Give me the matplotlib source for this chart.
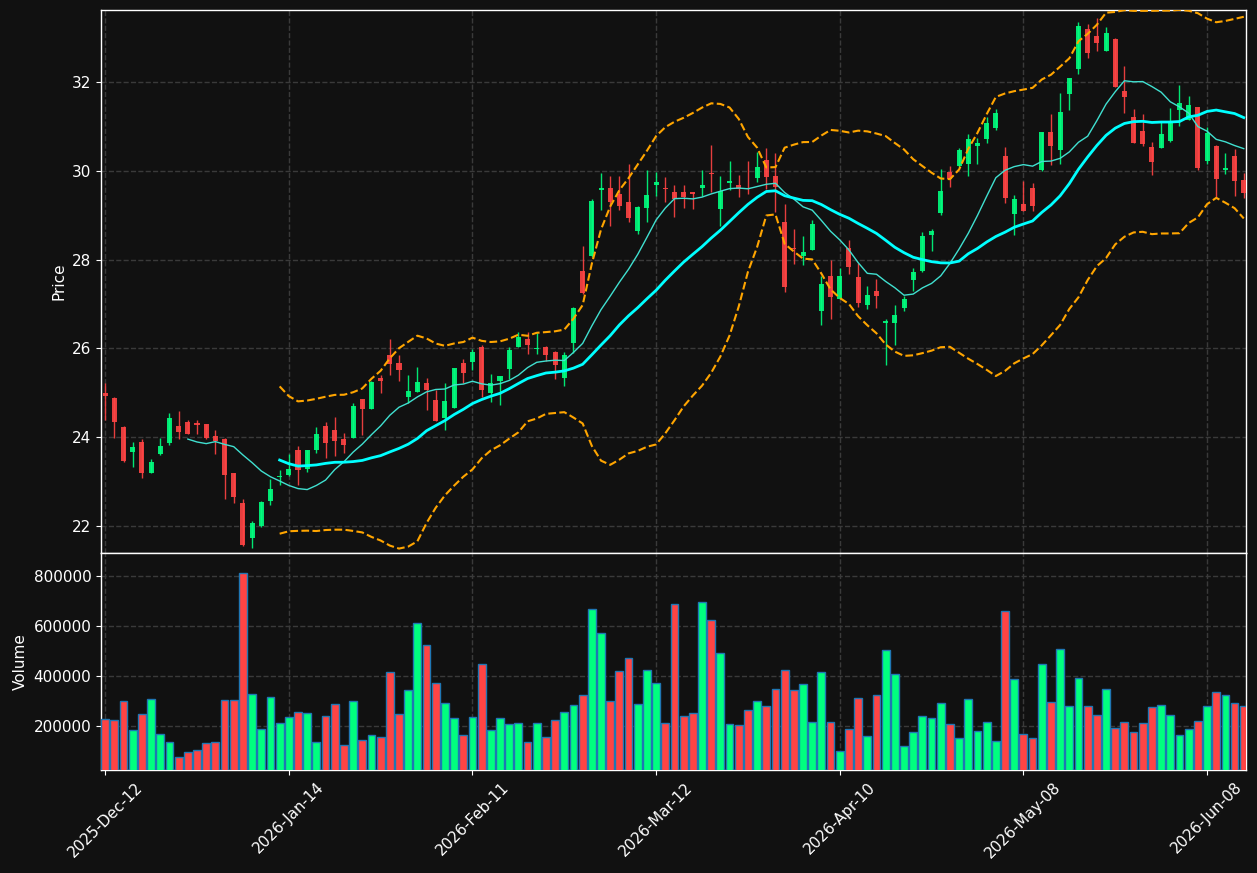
import numpy as np
import pandas as pd
import matplotlib
matplotlib.use('Agg')
import matplotlib.pyplot as plt
from matplotlib.ticker import FuncFormatter, FixedLocator

# trading days (custom calendar)
holidays = ['2025-12-24', '2025-12-25', '2026-01-01', '2026-02-16', '2026-04-03', '2026-05-25']
dates = pd.bdate_range('2025-12-12', periods=125, freq='C', holidays=holidays)

opens = [24.99, 24.88, 24.22, 23.67, 23.89, 23.20, 23.63, 23.87, 24.26, 24.33,
         24.32, 24.29, 24.02, 23.96, 23.19, 22.52, 21.72, 21.99, 22.57, 23.09,
         23.15, 23.72, 23.29, 23.71, 24.24, 24.15, 23.95, 23.99, 24.85, 24.64,
         25.34, 25.84, 25.66, 24.91, 25.02, 25.21, 24.83, 24.44, 24.66, 25.66,
         25.69, 26.02, 25.00, 25.27, 25.53, 26.03, 26.22, 25.99, 26.04, 25.92,
         25.33, 26.11, 27.75, 28.07, 29.56, 29.62, 29.48, 29.30, 28.64, 29.16,
         29.68, 29.61, 29.51, 29.51, 29.51, 29.60, 29.94, 29.13, 29.72, 29.69,
         29.60, 29.83, 30.25, 29.88, 28.85, 28.27, 28.09, 28.22, 26.84, 27.62,
         27.11, 28.27, 27.60, 26.97, 27.30, 26.57, 26.57, 26.91, 27.53, 27.74,
         28.55, 29.04, 29.98, 30.10, 30.16, 30.55, 30.71, 30.97, 30.34, 29.02,
         29.24, 29.60, 30.01, 30.87, 30.46, 31.73, 32.29, 33.19, 33.03, 32.70,
         32.97, 31.80, 31.21, 30.90, 30.54, 30.52, 30.66, 31.36, 31.15, 31.43,
         30.21, 30.56, 30.02, 30.34, 29.80]
highs = [25.21, 24.91, 24.24, 23.89, 23.95, 23.50, 23.99, 24.55, 24.58, 24.38,
         24.38, 24.30, 24.16, 23.97, 23.20, 22.60, 22.10, 22.55, 23.05, 23.26,
         23.61, 23.80, 23.72, 24.22, 24.35, 24.46, 24.10, 24.77, 24.86, 25.26,
         25.39, 26.22, 25.84, 25.41, 25.57, 25.34, 25.06, 25.21, 25.56, 25.75,
         25.99, 26.08, 25.42, 25.38, 26.02, 26.37, 26.37, 26.34, 26.05, 25.93,
         25.92, 26.93, 28.31, 29.36, 29.95, 29.89, 29.88, 30.15, 29.20, 30.01,
         29.98, 29.85, 29.69, 29.69, 29.52, 30.02, 30.58, 29.88, 30.22, 29.90,
         30.22, 30.43, 30.51, 30.40, 29.25, 28.69, 28.52, 28.88, 27.64, 27.99,
         27.81, 28.43, 27.92, 27.41, 27.57, 26.66, 26.98, 27.17, 27.81, 28.61,
         28.68, 30.05, 30.10, 30.52, 30.82, 30.73, 31.21, 31.39, 30.54, 29.45,
         29.78, 29.73, 30.88, 31.27, 31.74, 32.09, 33.34, 33.30, 33.45, 33.23,
         32.98, 32.35, 31.39, 31.27, 30.64, 31.09, 31.42, 31.94, 31.68, 31.44,
         30.98, 30.57, 30.40, 30.49, 29.95]
lows = [24.38, 23.99, 23.45, 23.32, 23.07, 23.18, 23.60, 23.83, 23.95, 24.06,
        24.08, 23.96, 23.61, 22.60, 22.51, 21.54, 21.50, 21.98, 22.46, 22.91,
        23.12, 22.92, 23.22, 23.65, 23.52, 23.57, 23.65, 23.98, 24.04, 24.63,
        24.99, 25.39, 25.26, 24.76, 25.01, 24.62, 24.36, 24.16, 24.65, 25.21,
        25.51, 24.91, 24.79, 24.72, 25.30, 26.02, 25.88, 25.87, 25.72, 25.30,
        25.16, 25.90, 27.23, 28.06, 29.12, 28.76, 29.12, 28.84, 28.58, 28.85,
        29.44, 29.29, 28.95, 29.16, 29.13, 29.43, 29.51, 28.76, 29.57, 29.40,
        29.48, 29.75, 29.59, 29.06, 27.27, 27.90, 27.88, 28.21, 26.52, 26.67,
        27.10, 27.67, 26.93, 26.88, 26.91, 25.63, 26.08, 26.85, 27.30, 27.73,
        28.19, 29.01, 29.64, 30.09, 29.88, 30.15, 30.62, 30.91, 29.27, 28.56,
        29.09, 29.10, 30.00, 30.13, 30.16, 31.37, 32.18, 32.53, 32.70, 32.69,
        31.88, 31.30, 30.62, 30.55, 29.91, 30.51, 30.65, 31.00, 31.14, 30.02,
        30.16, 29.41, 29.93, 29.43, 29.39]
closes = [24.93, 24.35, 23.47, 23.77, 23.18, 23.43, 23.80, 24.42, 24.12, 24.08,
          24.28, 23.98, 23.92, 23.15, 22.66, 21.56, 22.07, 22.54, 22.83, 23.12,
          23.28, 23.27, 23.70, 24.08, 23.87, 23.92, 23.83, 24.71, 24.64, 25.25,
          25.27, 25.65, 25.51, 25.03, 25.24, 25.06, 24.37, 24.81, 25.55, 25.45,
          25.91, 25.07, 25.21, 25.37, 25.96, 26.25, 26.07, 26.01, 25.84, 25.63,
          25.84, 26.90, 27.24, 29.31, 29.62, 29.29, 29.21, 28.94, 29.19, 29.46,
          29.75, 29.58, 29.36, 29.40, 29.48, 29.69, 29.93, 29.55, 29.77, 29.59,
          29.58, 30.09, 29.87, 29.63, 27.38, 28.23, 28.18, 28.80, 27.45, 27.15,
          27.64, 27.83, 27.02, 27.21, 27.17, 26.61, 26.76, 27.12, 27.71, 28.54,
          28.65, 29.55, 29.81, 30.46, 30.71, 30.63, 31.07, 31.30, 29.38, 29.37,
          29.10, 29.20, 30.87, 30.55, 31.32, 32.08, 33.25, 32.66, 32.88, 33.10,
          31.89, 31.67, 30.63, 30.61, 30.19, 30.82, 31.08, 31.52, 31.48, 30.07,
          30.85, 29.82, 30.07, 29.78, 29.49]
volumes = [228000, 224000, 300000, 184000, 245000, 308000, 168000, 136000, 72000, 92000,
           100000, 128000, 133000, 304000, 301000, 812000, 328000, 188000, 316000, 212000,
           236000, 256000, 252000, 136000, 240000, 288000, 120000, 300000, 144000, 164000,
           156000, 416000, 248000, 344000, 612000, 524000, 372000, 292000, 232000, 164000,
           236000, 448000, 184000, 232000, 208000, 212000, 132000, 212000, 156000, 224000,
           256000, 284000, 324000, 668000, 572000, 300000, 420000, 472000, 288000, 424000,
           372000, 212000, 688000, 240000, 252000, 696000, 624000, 492000, 208000, 204000,
           264000, 300000, 280000, 348000, 424000, 344000, 368000, 216000, 416000, 216000,
           96000, 188000, 312000, 160000, 324000, 504000, 408000, 116000, 176000, 240000,
           232000, 292000, 208000, 152000, 308000, 180000, 216000, 140000, 660000, 388000,
           168000, 152000, 448000, 296000, 508000, 280000, 392000, 280000, 244000, 348000,
           192000, 216000, 176000, 212000, 276000, 284000, 244000, 164000, 188000, 220000,
           280000, 336000, 324000, 292000, 280000]

df = pd.DataFrame({'Open': opens, 'High': highs, 'Low': lows,
                   'Close': closes, 'Volume': volumes}, index=dates)

bg = '#111111'
up_c = '#00ff7f'
dn_c = '#ff4444'

sma10 = df['Close'].rolling(10).mean()
sma20 = df['Close'].rolling(20).mean()
std20 = df['Close'].rolling(20).std(ddof=0)
bb_up = sma20 + 2 * std20
bb_lo = sma20 - 2 * std20

x = np.arange(len(df))
up = df['Close'] >= df['Open']
cols = np.where(up, up_c, dn_c)

fig = plt.figure(figsize=(12.57, 8.73), dpi=100, facecolor=bg)
ax = fig.add_axes([0.0804, 0.3666, 0.9109, 0.6219], facecolor=bg)
axv = fig.add_axes([0.0804, 0.118, 0.9109, 0.2486], facecolor=bg, sharex=ax)

# candles
ax.vlines(x, df['Low'], df['High'], colors=cols, linewidth=1, alpha=0.9, zorder=3)
body_bot = np.minimum(df['Open'], df['Close'])
body_h = np.maximum(np.abs(df['Close'] - df['Open']), 0.02)
ax.bar(x, body_h, bottom=body_bot, width=0.55, color=cols, alpha=0.9,
       linewidth=0, zorder=4)

ax.plot(x, sma10, color='#40e0d0', linewidth=1, zorder=5)
ax.plot(x, sma20, color='#00ffff', linewidth=2, zorder=5)
ax.plot(x, bb_up, color='orange', linewidth=1.5, linestyle='--', zorder=5)
ax.plot(x, bb_lo, color='orange', linewidth=1.5, linestyle='--', zorder=5)

# volume
axv.bar(x, df['Volume'], width=0.85, color=cols, edgecolor='#1f77b4',
        linewidth=1, zorder=3)

n = len(df)
ax.set_xlim(-0.45, n - 0.75)
ax.set_ylim(21.39, 33.62)
axv.set_ylim(0.3 * df['Volume'].min(), 1.1 * df['Volume'].max())

ax.set_yticks([22, 24, 26, 28, 30, 32])
axv.set_yticks([200000, 400000, 600000, 800000])
axv.yaxis.set_major_formatter(FuncFormatter(lambda v, p: '%d' % v))

tick_idx = list(range(0, n, 20))
axv.xaxis.set_major_locator(FixedLocator(tick_idx))
axv.set_xticklabels([dates[i].strftime('%Y-%b-%d') for i in tick_idx],
                    rotation=45, ha='center')
plt.setp(ax.get_xticklabels(), visible=False)

ax.set_ylabel('Price', color='white', fontsize=11)
axv.set_ylabel('Volume', color='white', fontsize=11)

for a in (ax, axv):
    a.grid(True, color='#3a3a3a', linestyle='--', linewidth=1)
    a.set_axisbelow(True)
    for s in a.spines.values():
        s.set_color('white')
        s.set_linewidth(1)
    a.tick_params(colors='white', labelsize=11)

fig.savefig('out.png', dpi=100, facecolor=bg)
